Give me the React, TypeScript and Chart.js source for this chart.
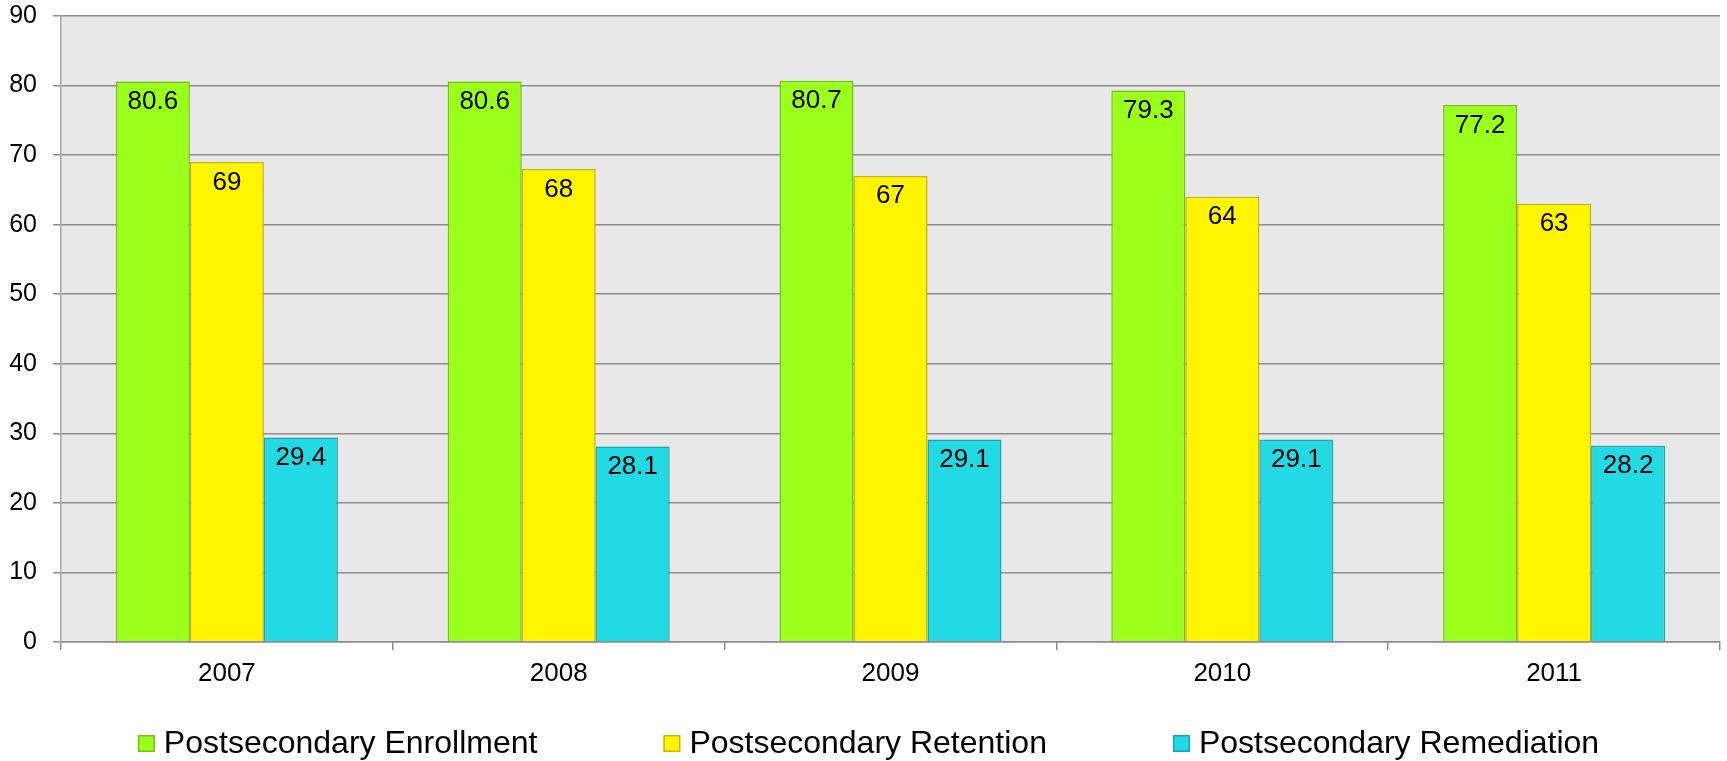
import React, { useEffect, useRef } from "react";
import { Chart, registerables } from "chart.js";

Chart.register(...registerables);

const categories = ["2007", "2008", "2009", "2010", "2011"];
const enrollment = [80.6, 80.6, 80.7, 79.3, 77.2];
const retention = [69, 68, 67, 64, 63];
const remediation = [29.4, 28.1, 29.1, 29.1, 28.2];
const seriesNames = [
  "Postsecondary Enrollment",
  "Postsecondary Retention",
  "Postsecondary Remediation",
];
const yMin = 0;
const yMax = 90;
const yStep = 10;

const FONT = "'Liberation Sans', Arial, sans-serif";

const bgPlugin = {
  id: "plotBg",
  beforeDraw(chart: any) {
    const { ctx, chartArea } = chart;
    ctx.save();
    ctx.fillStyle = "#e8e8e8";
    ctx.fillRect(chartArea.left, chartArea.top, chartArea.right - chartArea.left, chartArea.bottom - chartArea.top);
    ctx.restore();
  },
};

const labelPlugin = {
  id: "barLabels",
  afterDatasetsDraw(chart: any) {
    const { ctx } = chart;
    ctx.save();
    ctx.font = `26px ${FONT}`;
    ctx.fillStyle = "#000";
    ctx.textAlign = "center";
    ctx.textBaseline = "alphabetic";
    chart.data.datasets.forEach((ds: any, i: number) => {
      const meta = chart.getDatasetMeta(i);
      meta.data.forEach((bar: any, j: number) => {
        const v = ds.data[j];
        ctx.fillText(String(v), bar.x, bar.y + 27.5);
      });
    });
    ctx.restore();
  },
};

const legendPlugin = {
  id: "customLegend",
  afterDraw(chart: any) {
    const { ctx, width } = chart;
    const box = 17;
    const boxGap = 9;
    const itemGap = 126;
    ctx.save();
    ctx.font = `32px ${FONT}`;
    const items = chart.data.datasets.map((ds: any) => ({
      label: ds.label,
      fill: ds.backgroundColor,
      stroke: ds.borderColor,
      w: ctx.measureText(ds.label).width,
    }));
    const total =
      items.reduce((s: number, it: any) => s + box + boxGap + it.w, 0) + itemGap * (items.length - 1);
    let x = (width - total) / 2 + 5;
    const baseline = 753;
    items.forEach((it: any) => {
      ctx.fillStyle = it.fill;
      ctx.fillRect(x, 735, box, box);
      ctx.strokeStyle = it.stroke;
      ctx.lineWidth = 1.5;
      ctx.strokeRect(x + 0.75, 735.75, box - 1.5, box - 1.5);
      ctx.fillStyle = "#000";
      ctx.textAlign = "left";
      ctx.textBaseline = "alphabetic";
      ctx.fillText(it.label, x + box + boxGap, baseline);
      x += box + boxGap + it.w + itemGap;
    });
    ctx.restore();
  },
};

export default function App() {
  const ref = useRef<HTMLCanvasElement | null>(null);
  useEffect(() => {
    if (!ref.current) return;
    const chart = new Chart(ref.current, {
      type: "bar",
      data: {
        labels: categories,
        datasets: [
          {
            label: seriesNames[0],
            data: enrollment,
            backgroundColor: "#9bff1c",
            borderColor: "#74bf10",
            borderWidth: 1.5,
          },
          {
            label: seriesNames[1],
            data: retention,
            backgroundColor: "#fff500",
            borderColor: "#c9b500",
            borderWidth: 1.5,
          },
          {
            label: seriesNames[2],
            data: remediation,
            backgroundColor: "#23d9e4",
            borderColor: "#1aa3ad",
            borderWidth: 1.5,
          },
        ],
      },
      options: {
        responsive: false,
        animation: false,
        layout: { padding: { top: 16, right: 7, left: 0, bottom: 0 } },
        datasets: {
          bar: { categoryPercentage: 0.669, barPercentage: 1 },
        },
        plugins: {
          legend: { display: false },
          tooltip: { enabled: false },
          title: { display: false },
        },
        scales: {
          x: {
            afterFit: (s: any) => {
              s.height = 119;
            },
            grid: {
              display: true,
              drawOnChartArea: false,
              drawTicks: true,
              tickLength: 8,
              offset: true,
              color: "#8c8c8c",
              lineWidth: 1.5,
            },
            border: { display: true, color: "#8c8c8c", width: 1.5 },
            ticks: {
              color: "#000",
              font: { family: FONT, size: 26 },
              padding: 8,
              maxRotation: 0,
            },
          },
          y: {
            min: yMin,
            max: yMax,
            afterFit: (s: any) => {
              s.width = 61;
              s.paddingTop = 0;
              s.paddingBottom = 0;
            },
            grid: {
              color: "#8c8c8c",
              lineWidth: 1.5,
              tickLength: 8,
              drawTicks: true,
            },
            border: { display: true, color: "#a6a6a6", width: 1.5 },
            ticks: {
              stepSize: yStep,
              color: "#000",
              font: { family: FONT, size: 25 },
              padding: 16,
            },
          },
        },
      },
      plugins: [bgPlugin, labelPlugin, legendPlugin],
    });
    return () => chart.destroy();
  }, []);
  return (
    <div style={{ position: "fixed", left: 0, top: 0, width: 1727, height: 761, background: "#fff" }}>
      <canvas ref={ref} width={1727} height={761} style={{ display: "block", width: 1727, height: 761 }} />
    </div>
  );
}
